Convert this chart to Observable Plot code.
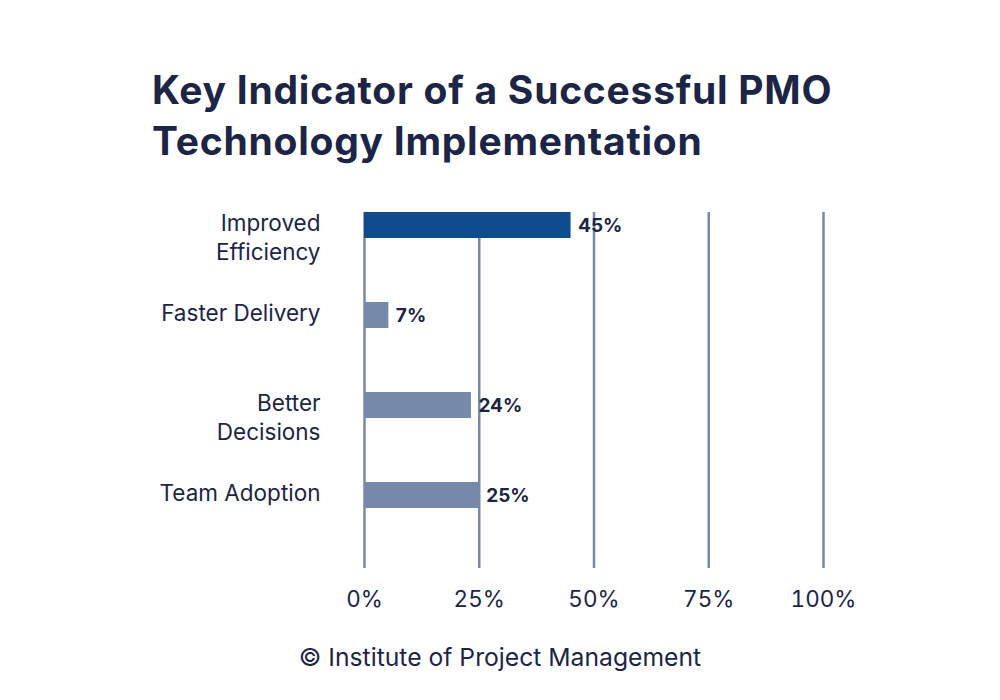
<!DOCTYPE html>
<html>
<head>
<meta charset="utf-8">
<script src="https://cdn.jsdelivr.net/npm/d3@7"></script>
<script src="https://cdn.jsdelivr.net/npm/@observablehq/plot@0.6"></script>
<style>
  html, body { margin: 0; padding: 0; background: #fff; }
  #wrap { position: relative; width: 1000px; height: 700px; background: #fff; font-family: Inter, "Noto Sans", sans-serif; color: #1c2545; }
  #title { position: absolute; left: 152px; top: 64px; font-size: 39px; font-weight: 700; line-height: 51px; letter-spacing: 0.75px; white-space: nowrap; }
  #chart { position: absolute; left: 0; top: 200px; }
  #caption { position: absolute; left: 0; width: 1000px; top: 642px; text-align: center; font-size: 24.7px; line-height: 30px; }
</style>
</head>
<body>
<div id="wrap">
  <div id="title">Key Indicator of a Successful PMO<br>Technology Implementation</div>
  <div id="chart"></div>
  <div id="caption">© Institute of Project Management</div>
</div>
<script>
const categories = ["Improved Efficiency", "Faster Delivery", "Better Decisions", "Team Adoption"];
const categoryLabels = ["Improved\nEfficiency", "Faster Delivery", "Better\nDecisions", "Team Adoption"];
const barValues = [45, 5.3, 23.3, 25];
const valueLabels = ["45%", "7%", "24%", "25%"];
const highlighted = "Improved Efficiency";
const xTicks = [0, 25, 50, 75, 100];

const data = categories.map((c, i) => ({category: c, label: categoryLabels[i], value: barValues[i], valueLabel: valueLabels[i]}));

const textColor = "#1c2545";
const darkBlue = "#0f4c8e";
const slate = "#7689a9";

const chart = Plot.plot({
  width: 1000,
  height: 440,
  marginLeft: 364,
  marginRight: 177,
  marginTop: 12,
  marginBottom: 72,
  style: {fontFamily: "Inter, 'Noto Sans', sans-serif", color: textColor, background: "transparent"},
  x: {domain: [0, 100], ticks: xTicks, tickFormat: d => d + "%", tickSize: 0, tickPadding: 24, label: null},
  y: {domain: categories, range: [-20, 340], paddingInner: 0.711, paddingOuter: 0.3555, align: 0.5, axis: null, round: false},
  marks: [
    Plot.ruleX(xTicks, {stroke: slate, strokeWidth: 2.5}),
    Plot.barX(data, {x: "value", y: "category", fill: d => d.category === highlighted ? darkBlue : slate}),
    Plot.text(data, {x: "value", y: "category", text: "valueLabel", textAnchor: "start", dx: 7, fontSize: 19, fontWeight: 700, fill: textColor}),
    Plot.text(data, {y: "category", text: "label", frameAnchor: "left", textAnchor: "end", dx: -44, lineAnchor: "top", dy: -14, lineHeight: 1.25, fontSize: 22.5, fill: textColor}),
    Plot.axisX({ticks: xTicks, tickFormat: d => d + "%", tickSize: 0, tickPadding: 23, fontSize: 22.5, fill: textColor, label: null})
  ]
});
document.getElementById("chart").appendChild(chart);
</script>
</body>
</html>
